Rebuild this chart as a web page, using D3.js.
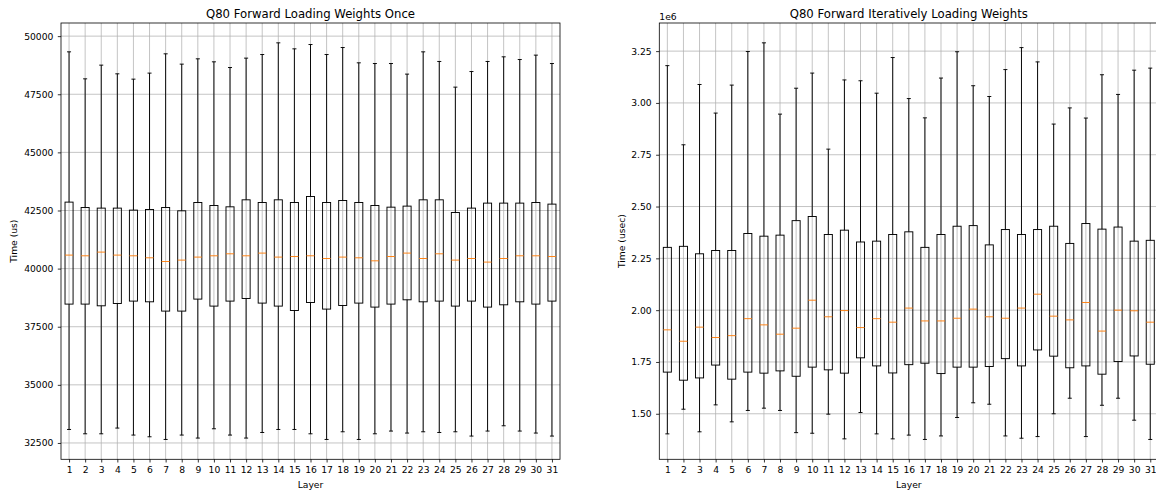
<!DOCTYPE html>
<html><head><meta charset="utf-8">
<script src="https://cdn.jsdelivr.net/npm/d3@7"></script>
<style>
html,body{margin:0;padding:0;background:#fff;overflow:hidden;width:1156px;height:493px}
svg{display:block;overflow:hidden}
svg text{font-family:"DejaVu Sans",sans-serif;fill:#000}
</style>
</head><body>
<svg id="chart" width="1156" height="493" viewBox="0 0 1156 493"></svg>
<script>
// ---------- data ----------
const layers = [1,2,3,4,5,6,7,8,9,10,11,12,13,14,15,16,17,18,19,20,21,22,23,24,25,26,27,28,29,30,31];

// Left: "Q80 Forward Loading Weights Once" (us)
const onceLow  = [33080,32894,32894,33140,32839,32766,32650,32839,32710,33110,32839,32710,32950,33080,33080,32894,32650,32981,32650,32894,33011,32925,32981,32950,32981,32796,33011,33239,33011,32925,32796];
const onceQ1   = [38473,38473,38400,38500,38602,38572,38172,38172,38688,38387,38602,38714,38516,38387,38198,38542,38258,38413,38516,38344,38473,38658,38572,38602,38387,38602,38344,38443,38572,38473,38602];
const onceMed  = [40581,40551,40710,40581,40551,40465,40305,40366,40495,40551,40637,40551,40667,40495,40520,40551,40434,40495,40465,40335,40520,40667,40434,40637,40366,40434,40280,40434,40551,40551,40520];
const onceQ3   = [42860,42628,42602,42602,42516,42542,42628,42486,42843,42714,42658,42959,42843,42959,42843,43101,42843,42929,42843,42714,42643,42688,42959,42959,42413,42602,42817,42817,42817,42843,42774];
const onceHigh = [49325,48163,48753,48379,48150,48409,49239,48796,49024,48895,48650,49054,49209,49712,49454,49639,49209,49510,48852,48822,48822,48366,49325,48910,47806,48477,48910,49110,48994,49183,48822];
const onceTicks = [32500,35000,37500,40000,42500,45000,47500,50000];

// Right: "Q80 Forward Iteratively Loading Weights" (usec)
const iterLow  = [1403000,1522000,1413000,1543000,1461000,1516000,1527000,1516000,1409000,1406000,1498000,1379000,1506000,1403000,1379000,1397000,1376000,1393000,1482000,1553000,1546000,1393000,1382000,1390000,1500000,1575000,1390000,1541000,1575000,1469000,1376000];
const iterQ1   = [1701000,1662000,1673000,1735000,1667000,1701000,1696000,1707000,1681000,1725000,1712000,1696000,1770000,1731000,1697000,1737000,1744000,1694000,1725000,1725000,1728000,1766000,1731000,1808000,1778000,1722000,1731000,1691000,1752000,1779000,1739000];
const iterMed  = [1905000,1850000,1918000,1868000,1877000,1959000,1929000,1884000,1913000,2048000,1968000,1998000,1916000,1959000,1942000,2010000,1948000,1948000,1961000,2005000,1968000,1961000,2010000,2077000,1971000,1953000,2037000,1899000,2000000,1997000,1942000];
const iterQ3   = [2303000,2308000,2272000,2288000,2288000,2370000,2357000,2362000,2432000,2452000,2365000,2386000,2329000,2333000,2365000,2378000,2303000,2365000,2405000,2408000,2315000,2389000,2365000,2389000,2405000,2322000,2418000,2391000,2401000,2333000,2337000];
const iterHigh = [3180000,2798000,3089000,2951000,3086000,3248000,3290000,2946000,3071000,3144000,2777000,3111000,3107000,3047000,3219000,3021000,2928000,3120000,3247000,3083000,3031000,3161000,3267000,3198000,2898000,2976000,2927000,3136000,3041000,3158000,3168000];
const iterTicks = [1500000,1750000,2000000,2250000,2500000,2750000,3000000,3250000];

// ---------- drawing ----------
const svgRoot = d3.select("#chart");
svgRoot.append("defs").append("clipPath").attr("id", "page")
  .append("rect").attr("x", 0).attr("y", 0).attr("width", 1156).attr("height", 493);
const svg = svgRoot.append("g").attr("clip-path", "url(#page)");
const FS = 9.2, TITLE_FS = 11.7;
const TOP = 23, BOTTOM = 459.3, W = 499;

function panel(cfg) {
  const x0 = cfg.left, x1 = cfg.left + W;
  const lo = d3.min(cfg.low), hi = d3.max(cfg.high);
  const pad = (hi - lo) * 0.05;
  const x = d3.scaleLinear().domain([0.5, 31.5]).range([x0, x1]);
  const y = d3.scaleLinear().domain([lo - pad, hi + pad]).range([BOTTOM, TOP]);
  const g = svg.append("g");

  // grid
  g.append("g").selectAll("line").data(layers).join("line")
    .attr("x1", d => x(d)).attr("x2", d => x(d)).attr("y1", TOP).attr("y2", BOTTOM)
    .attr("stroke", "#b0b0b0").attr("stroke-width", 0.75);
  g.append("g").selectAll("line").data(cfg.ticks).join("line")
    .attr("x1", x0).attr("x2", x1).attr("y1", d => y(d)).attr("y2", d => y(d))
    .attr("stroke", "#b0b0b0").attr("stroke-width", 0.75);

  // boxes
  const bw = x(1.25) - x(1), cw = x(1.125) - x(1);
  const items = layers.map((l, i) => ({l, lo: cfg.low[i], q1: cfg.q1[i], med: cfg.med[i], q3: cfg.q3[i], hi: cfg.high[i]}));
  const bg = g.append("g").selectAll("g").data(items).join("g");
  bg.append("line").attr("x1", d => x(d.l)).attr("x2", d => x(d.l))
    .attr("y1", d => y(d.q1)).attr("y2", d => y(d.lo)).attr("stroke", "#000").attr("stroke-width", 0.95);
  bg.append("line").attr("x1", d => x(d.l)).attr("x2", d => x(d.l))
    .attr("y1", d => y(d.q3)).attr("y2", d => y(d.hi)).attr("stroke", "#000").attr("stroke-width", 0.95);
  bg.append("line").attr("x1", d => x(d.l) - cw).attr("x2", d => x(d.l) + cw)
    .attr("y1", d => y(d.lo)).attr("y2", d => y(d.lo)).attr("stroke", "#000").attr("stroke-width", 0.95);
  bg.append("line").attr("x1", d => x(d.l) - cw).attr("x2", d => x(d.l) + cw)
    .attr("y1", d => y(d.hi)).attr("y2", d => y(d.hi)).attr("stroke", "#000").attr("stroke-width", 0.95);
  bg.append("rect").attr("x", d => x(d.l) - bw).attr("width", 2 * bw)
    .attr("y", d => y(d.q3)).attr("height", d => y(d.q1) - y(d.q3))
    .attr("fill", "none").attr("stroke", "#000").attr("stroke-width", 0.95);
  bg.append("line").attr("x1", d => x(d.l) - bw).attr("x2", d => x(d.l) + bw)
    .attr("y1", d => y(d.med)).attr("y2", d => y(d.med)).attr("stroke", "#ff7f0e").attr("stroke-width", 0.95);

  // frame
  g.append("rect").attr("x", x0).attr("y", TOP).attr("width", W).attr("height", BOTTOM - TOP)
    .attr("fill", "none").attr("stroke", "#000").attr("stroke-width", 0.8);

  // axes
  const ax = g.append("g").attr("transform", `translate(0,${BOTTOM})`)
    .call(d3.axisBottom(x).tickValues(layers).tickSize(3.2).tickPadding(4.2).tickFormat(d3.format("d")));
  const ay = g.append("g").attr("transform", `translate(${x0},0)`)
    .call(d3.axisLeft(y).tickValues(cfg.ticks).tickSize(3.2).tickPadding(4.4).tickFormat(cfg.fmt));
  [ax, ay].forEach(a => {
    a.select(".domain").remove();
    a.selectAll("line").attr("stroke", "#000").attr("stroke-width", 0.8);
    a.selectAll("text").attr("font-size", FS).attr("font-family", "DejaVu Sans").attr("fill", "#000");
  });

  // labels
  g.append("text").attr("x", (x0 + x1) / 2).attr("y", 17.5).attr("text-anchor", "middle")
    .attr("font-size", TITLE_FS).text(cfg.title);
  g.append("text").attr("x", (x0 + x1) / 2).attr("y", 488).attr("text-anchor", "middle")
    .attr("font-size", FS).text("Layer");
  g.append("text").attr("transform", `translate(${cfg.ylabelX},${(TOP + BOTTOM) / 2}) rotate(-90)`)
    .attr("text-anchor", "middle").attr("font-size", FS).text(cfg.ylabel);
  if (cfg.offset) {
    g.append("text").attr("x", x0).attr("y", 19.5).attr("font-size", FS).text(cfg.offset);
  }
}

panel({left: 61, low: onceLow, q1: onceQ1, med: onceMed, q3: onceQ3, high: onceHigh,
  ticks: onceTicks, fmt: d3.format("d"), title: "Q80 Forward Loading Weights Once",
  ylabel: "Time (us)", ylabelX: 16.7});
panel({left: 659.3, low: iterLow, q1: iterQ1, med: iterMed, q3: iterQ3, high: iterHigh,
  ticks: iterTicks, fmt: d => (d / 1e6).toFixed(2), title: "Q80 Forward Iteratively Loading Weights",
  ylabel: "Time (usec)", ylabelX: 625, offset: "1e6"});
</script>
</body></html>
